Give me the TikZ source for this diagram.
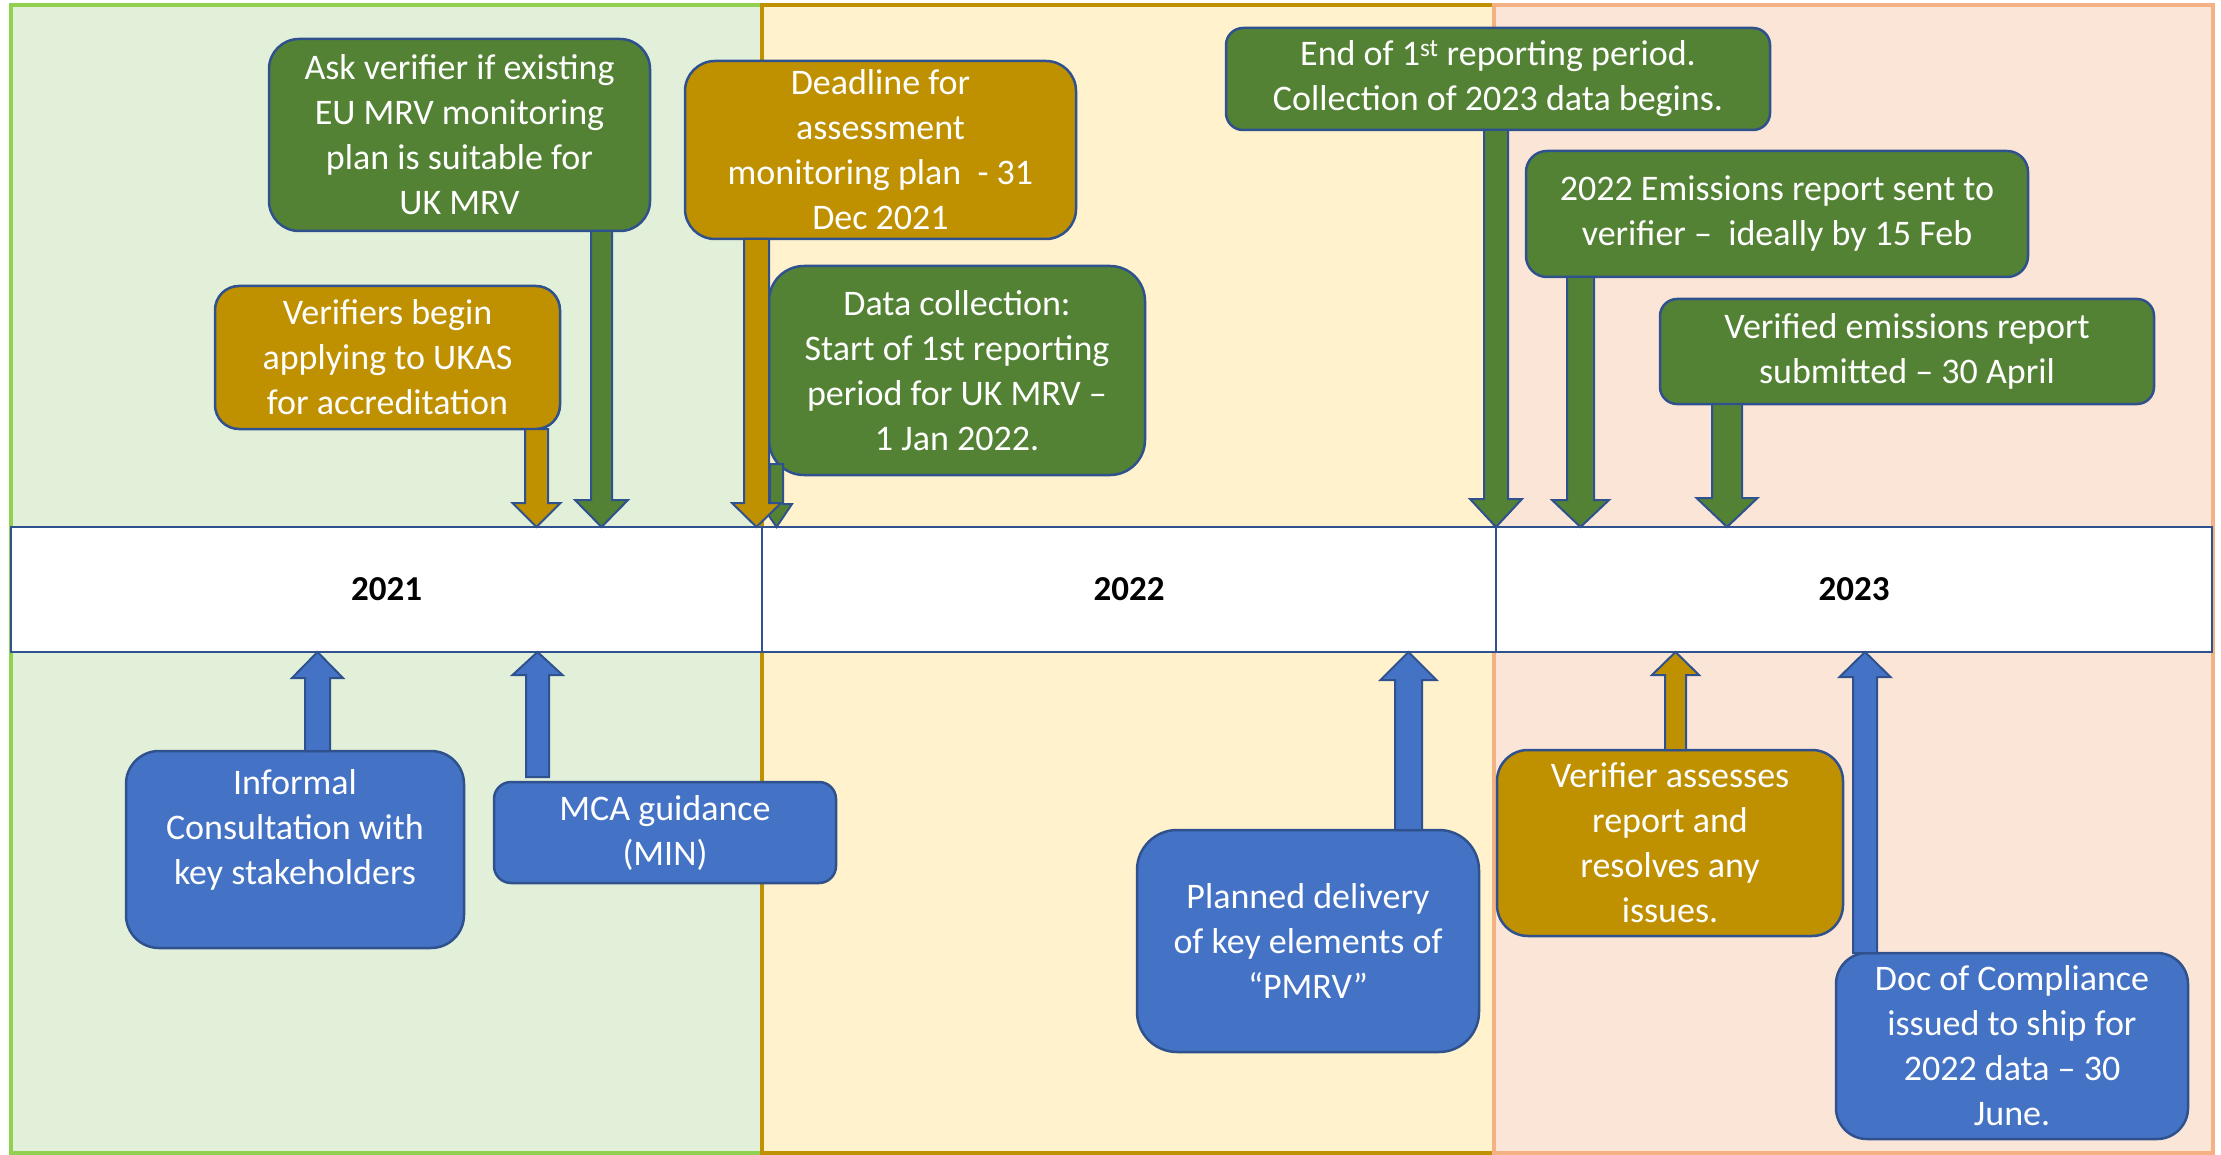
\documentclass[tikz,border=0pt]{standalone}
\usepackage{fontspec}
\setmainfont{Carlito}
\usepackage{tikz}
\usetikzlibrary{calc}
\definecolor{mrvgreen}{HTML}{548235}
\definecolor{mrvgold}{HTML}{BF9000}
\definecolor{mrvblue}{HTML}{4472C4}
\definecolor{mrvedge}{HTML}{2F528F}
\definecolor{bggreen}{HTML}{E2F0D9}
\definecolor{bgyellow}{HTML}{FFF2CC}
\definecolor{bgorange}{HTML}{FBE5D6}
\definecolor{lngreen}{HTML}{92D050}
\definecolor{lnorange}{HTML}{F4B183}
\tikzset{
  box/.style={draw=mrvedge, line width=2.5pt, text=white, align=center,
    inner sep=0pt, outer sep=0pt, font=\fontsize{36}{45}\selectfont},
  yearcell/.style={draw=mrvedge, line width=2.5pt, fill=white, inner sep=0pt,
    outer sep=0pt, minimum height=125pt, font=\fontsize{35}{42}\selectfont\bfseries},
  blkarrow/.style={draw=mrvedge, line width=2pt, line join=miter},
  panel/.style={line width=4pt}
}

\begin{document}
\begin{tikzpicture}[x=1pt, y=-1pt]

  % block arrow: colour, start, target, stem half width, head half width, head length
  \newcommand\blk[6]{%
    \draw[blkarrow, fill=#1] let \p1=#2, \p2=#3,
      \n2={ifthenelse(\y2>\y1,\y2-#6pt,\y2+#6pt)} in
    ({\x1-#4pt},\y1) -- ({\x1-#4pt},{\n2*1pt}) -- ({\x1-#5pt},{\n2*1pt}) -- (\x1,\y2)
    -- ({\x1+#5pt},{\n2*1pt}) -- ({\x1+#4pt},{\n2*1pt}) -- ({\x1+#4pt},\y1) -- cycle;}

  \useasboundingbox (0,0) rectangle (2221,1155);

  % year panels
  \draw[panel, draw=lngreen, fill=bggreen] (11,5) rectangle (762,1153);
  \draw[panel, draw=mrvgold, fill=bgyellow] (762,5) rectangle (1494,1153);
  \draw[panel, draw=lnorange, fill=bgorange] (1494,5) rectangle (2213,1153);

  % time line
  \node[yearcell, minimum width=751pt] (y2021) at (386.5,589.5) {2021};
  \node[yearcell, minimum width=734pt] (y2022) at (1129,589.5) {2022};
  \node[yearcell, minimum width=716pt] (y2023) at (1854,589.5) {2023};

  % above the line
  \node[box, fill=mrvgreen, minimum width=381pt, minimum height=192pt, rounded corners=30pt]
    (askv) at (459.5,135) {Ask verifier if existing\\EU MRV monitoring\\plan is suitable for\\UK MRV};
  \node[box, fill=mrvgold, minimum width=345pt, minimum height=143pt, rounded corners=24pt]
    (ukas) at (387.5,357.5) {Verifiers begin\\applying to UKAS\\for accreditation};
  \node[box, fill=mrvgold, minimum width=391pt, minimum height=178pt, rounded corners=30pt]
    (deadline) at (880.5,150) {Deadline for\\assessment\\monitoring plan~~- 31\\Dec 2021};
  \node[box, fill=mrvgreen, minimum width=376pt, minimum height=209pt, rounded corners=35pt]
    (datacoll) at (957,370.5) {Data collection:\\Start of 1st reporting\\period for UK MRV –\\1 Jan 2022.};
  \node[box, fill=mrvgreen, minimum width=544pt, minimum height=102pt, rounded corners=17pt]
    (endfirst) at (1498,79) {End of 1\textsuperscript{st} reporting period.\\Collection of 2023 data begins.};
  \node[box, fill=mrvgreen, minimum width=502pt, minimum height=126pt, rounded corners=21pt]
    (sentver) at (1777,214) {2022 Emissions report sent to\\verifier –~~ideally by 15 Feb};
  \node[box, fill=mrvgreen, minimum width=494pt, minimum height=105pt, rounded corners=17pt]
    (submitted) at (1907,351.5) {Verified emissions report\\submitted – 30 April};

  % below the line
  \node[box, fill=mrvblue, minimum width=338pt, minimum height=197pt, rounded corners=33pt]
    (informal) at (295,849.5) {Informal\\Consultation with\\key stakeholders\\\mbox{}};
  \node[box, fill=mrvblue, minimum width=342pt, minimum height=101pt, rounded corners=17pt]
    (mca) at (665,832.5) {MCA guidance\\(MIN)};
  \node[box, fill=mrvblue, minimum width=342pt, minimum height=222pt, rounded corners=40pt]
    (pmrv) at (1308,941) {Planned delivery\\of key elements of\\“PMRV”};
  \node[box, fill=mrvgold, minimum width=346pt, minimum height=186pt, rounded corners=31pt]
    (assess) at (1670,843) {Verifier assesses\\report and\\resolves any\\issues.};
  \node[box, fill=mrvblue, minimum width=352pt, minimum height=186pt, rounded corners=31pt]
    (doc) at (2012,1046) {Doc of Compliance\\issued to ship for\\2022 data – 30\\June.};

  % arrows down to the line
  \blk{mrvgreen}{([xshift=-48.5pt]askv.south east)}{(y2021.north)}{10.5}{26.5}{27} % askv->2021
  \blk{mrvgold}{([xshift=-23.5pt]ukas.south east)}{(y2021.north)}{11.5}{24}{24} % ukas->2021
  \blk{mrvgreen}{([xshift=7.5pt,yshift=11pt]datacoll.south west)}{(y2022.north)}{6.5}{15.5}{23} % datacoll->2022
  \blk{mrvgold}{([xshift=71.5pt]deadline.south west)}{(y2021.north)}{12.5}{24.5}{24} % deadline->2021
  \blk{mrvgreen}{([xshift=270pt]endfirst.south west)}{(y2023.north)}{12}{26}{28} % endfirst->2023
  \blk{mrvgreen}{([xshift=54.5pt]sentver.south west)}{(y2023.north)}{13.5}{28.5}{27} % sentver->2023
  \blk{mrvgreen}{([xshift=67pt]submitted.south west)}{(y2023.north)}{15}{30.5}{29} % submitted->2023

  % arrows up to the line
  \blk{mrvblue}{([xshift=191.5pt]informal.north west)}{(y2021.south)}{12.5}{25.5}{26} % informal->2021
  \blk{mrvblue}{([xshift=43.5pt,yshift=5pt]mca.north west)}{(y2021.south)}{11.5}{25}{23} % mca->2021
  \blk{mrvblue}{([xshift=271.5pt]pmrv.north west)}{(y2022.south)}{13.5}{28}{28} % pmrv->2022
  \blk{mrvgold}{([xshift=178.5pt]assess.north west)}{(y2023.south)}{10.5}{23.5}{23} % assess->2023
  \blk{mrvblue}{([xshift=29pt]doc.north west)}{(y2023.south)}{12}{25.5}{25} % doc->2023

\end{tikzpicture}
\end{document}
